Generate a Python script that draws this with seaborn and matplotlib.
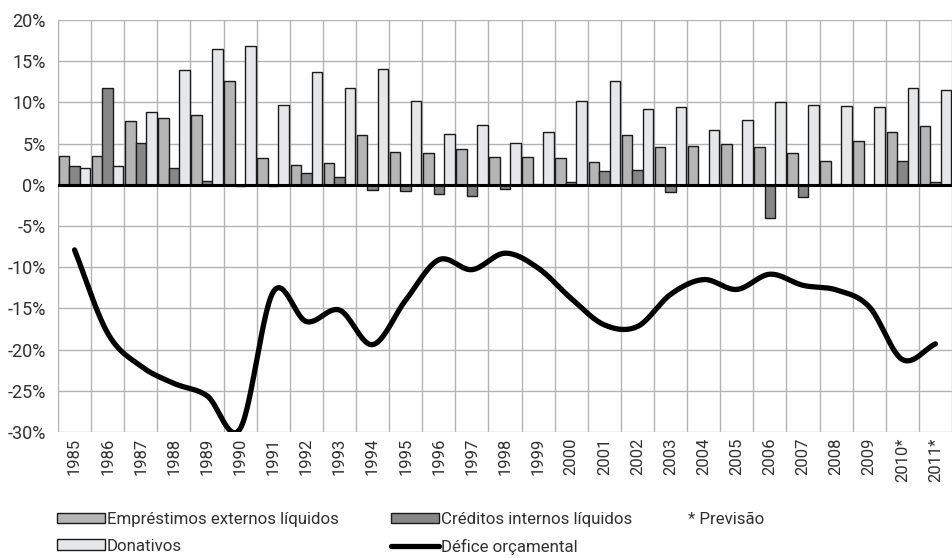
import numpy as np
import pandas as pd
import matplotlib
matplotlib.use("Agg")
import matplotlib.pyplot as plt
import seaborn as sns
from matplotlib.patches import Patch
from matplotlib.lines import Line2D

years = ["1985", "1986", "1987", "1988", "1989", "1990", "1991", "1992", "1993", "1994",
         "1995", "1996", "1997", "1998", "1999", "2000", "2001", "2002", "2003", "2004",
         "2005", "2006", "2007", "2008", "2009", "2010*", "2011*"]
emprestimos = [3.5, 3.5, 7.8, 8.1, 8.5, 12.6, 3.2, 2.35, 2.6, 6.0, 3.95, 3.85, 4.3, 3.4,
               3.4, 3.2, 2.75, 6.1, 4.6, 4.7, 4.9, 4.6, 3.85, 2.87, 5.3, 6.4, 7.15]
creditos = [2.3, 11.8, 5.05, 2.0, 0.45, -0.1, -0.1, 1.4, 0.9, -0.6, -0.8, -1.1, -1.4, -0.5,
            0.15, 0.3, 1.65, 1.8, -0.9, -0.05, -0.05, -4.0, -1.5, 0.15, -0.05, 2.87, 0.3]
donativos = [2.0, 2.3, 8.8, 13.9, 16.5, 16.85, 9.7, 13.65, 11.7, 14.0, 10.2, 6.2, 7.3, 5.1,
             6.4, 10.2, 12.6, 9.25, 9.4, 6.7, 7.9, 10.0, 9.7, 9.55, 9.4, 11.7, 11.5]
defice = [-7.9, -18.0, -22.0, -24.1, -25.6, -29.6, -13.0, -16.6, -15.2, -19.4, -14.0, -9.1,
          -10.3, -8.3, -10.1, -13.8, -17.0, -17.2, -13.3, -11.5, -12.7, -10.85, -12.2,
          -12.75, -14.8, -21.2, -19.3]

series_names = ["Empréstimos externos líquidos", "Créditos internos líquidos", "Donativos"]
line_name = "Défice orçamental"
note_text = "* Previsão"
colors = ["#b5b5b5", "#878787", "#e6e7e8"]

df = pd.DataFrame({
    "ano": years * 3,
    "valor": emprestimos + creditos + donativos,
    "serie": [series_names[0]] * len(years) + [series_names[1]] * len(years) + [series_names[2]] * len(years),
})

sns.set_theme(style="white")
plt.rcParams["font.family"] = ["Roboto", "DejaVu Sans"]
text_col = "#303030"

fig = plt.figure(figsize=(9.52, 5.58), dpi=100)
ax = fig.add_axes([58 / 952, 1 - 432 / 558, 894 / 952, 412 / 558])

sns.barplot(data=df, x="ano", y="valor", hue="serie", order=years, hue_order=series_names,
            palette=colors, width=0.95, edgecolor="#1a1a1a", linewidth=1.0,
            legend=False, ax=ax, zorder=3)

# smooth line (Catmull-Rom through the data points)
y = np.array(defice, dtype=float)
n = len(y)
xs, ys = [], []
for i in range(n - 1):
    p0 = y[i - 1] if i > 0 else y[i]
    p1, p2 = y[i], y[i + 1]
    p3 = y[i + 2] if i + 2 < n else y[i + 1]
    t = np.linspace(0, 1, 30, endpoint=False)
    m1 = (p2 - p0) / (2 if i > 0 else 1)
    m2 = (p3 - p1) / (2 if i + 2 < n else 1)
    h00 = 2 * t**3 - 3 * t**2 + 1
    h10 = t**3 - 2 * t**2 + t
    h01 = -2 * t**3 + 3 * t**2
    h11 = t**3 - t**2
    xs.extend(i + t)
    ys.extend(h00 * p1 + h10 * m1 + h01 * p2 + h11 * m2)
xs.append(n - 1)
ys.append(y[-1])
ax.plot(xs, ys, color="black", lw=3.8, solid_capstyle="round", zorder=5)

ax.axhline(0, color="black", lw=2.2, zorder=4)

ax.set_ylim(-30, 20)
ax.set_xlim(-0.5, len(years) - 0.5)
ax.set_yticks(np.arange(-30, 21, 5))
ax.set_yticklabels([f"{v}%" for v in range(-30, 21, 5)])
ax.set_xticks(np.arange(len(years)))
ax.set_xticklabels(years, rotation=90)
ax.set_xticks(np.arange(-0.5, len(years), 1), minor=True)
ax.grid(False)
ax.grid(axis="y", which="major", color="#b3b3b3", lw=1.0, zorder=0)
ax.grid(axis="x", which="minor", color="#b3b3b3", lw=1.0, zorder=0)
ax.set_axisbelow(True)
ax.tick_params(axis="y", length=0, pad=9, labelsize=13, labelcolor=text_col)
ax.tick_params(axis="x", which="both", length=0, pad=4, labelsize=12, labelcolor=text_col)
ax.set_xlabel("")
ax.set_ylabel("")
for s in ax.spines.values():
    s.set_visible(False)

h_emp = Patch(facecolor=colors[0], edgecolor="#1a1a1a", lw=1.0, label=series_names[0])
h_cred = Patch(facecolor=colors[1], edgecolor="#1a1a1a", lw=1.0, label=series_names[1])
h_don = Patch(facecolor=colors[2], edgecolor="#1a1a1a", lw=1.0, label=series_names[2])
h_def = Line2D([0], [0], color="black", lw=3.8, label=line_name)

common = dict(frameon=False, fontsize=12.2, handlelength=2.85, handleheight=0.6,
              handletextpad=0.1, labelspacing=0.68, borderaxespad=0, borderpad=0,
              labelcolor=text_col)
leg1 = fig.legend(handles=[h_emp, h_don], loc="upper left",
                  bbox_to_anchor=(57 / 952, 1 - 512 / 558), **common)
leg2 = fig.legend(handles=[h_cred, h_def], loc="upper left",
                  bbox_to_anchor=(391 / 952, 1 - 512 / 558), **common)
fig.text(688 / 952, 1 - 520 / 558, note_text, fontsize=12.2, color=text_col, va="center")

fig.savefig("out.png", dpi=100)
